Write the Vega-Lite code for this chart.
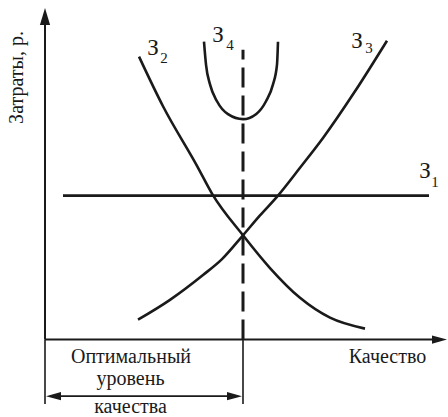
{
  "$schema": "https://vega.github.io/schema/vega-lite/v6.json",
  "width": 448,
  "height": 417,
  "padding": 0,
  "autosize": {"type": "fit", "contains": "padding"},
  "background": "white",
  "config": {"view": {"stroke": null}},
  "datasets": {
    "curves": [
      {"s": "З1", "q": 18, "c": 145}, {"s": "З1", "q": 384, "c": 145},
      {"s": "З2", "q": 94, "c": 285}, {"s": "З2", "q": 118, "c": 235}, {"s": "З2", "q": 152, "c": 175}, {"s": "З2", "q": 167, "c": 147}, {"s": "З2", "q": 198, "c": 105}, {"s": "З2", "q": 225, "c": 72}, {"s": "З2", "q": 255, "c": 42}, {"s": "З2", "q": 285, "c": 22}, {"s": "З2", "q": 320, "c": 11},
      {"s": "З3", "q": 93, "c": 20}, {"s": "З3", "q": 125, "c": 40}, {"s": "З3", "q": 158, "c": 65}, {"s": "З3", "q": 177, "c": 81}, {"s": "З3", "q": 198, "c": 105}, {"s": "З3", "q": 215, "c": 125}, {"s": "З3", "q": 233, "c": 145}, {"s": "З3", "q": 255, "c": 173}, {"s": "З3", "q": 278, "c": 203}, {"s": "З3", "q": 310, "c": 250}, {"s": "З3", "q": 342, "c": 301},
      {"s": "З4", "q": 159, "c": 300}, {"s": "З4", "q": 161, "c": 277}, {"s": "З4", "q": 165, "c": 257}, {"s": "З4", "q": 172, "c": 240}, {"s": "З4", "q": 183, "c": 227}, {"s": "З4", "q": 198, "c": 222}, {"s": "З4", "q": 211, "c": 227}, {"s": "З4", "q": 221, "c": 240}, {"s": "З4", "q": 228, "c": 257}, {"s": "З4", "q": 232, "c": 277}, {"s": "З4", "q": 233, "c": 300}
    ],
    "axes": [
      {"q": 0, "c": 0, "q2": 0, "c2": 325},
      {"q": 0, "c": 0, "q2": 395, "c2": 0}
    ],
    "bracket": [
      {"q": 0, "c": 0, "q2": 0, "c2": -65},
      {"q": 198, "c": 0, "q2": 198, "c2": -65},
      {"q": 6, "c": -57, "q2": 192, "c2": -57}
    ],
    "optimum": [{"q": 198, "c": 0, "c2": 292}],
    "heads": [
      {"dir": "up", "q": 0, "c": 325.5},
      {"dir": "right", "q": 394.5, "c": 0},
      {"dir": "left", "q": 8.5, "c": -57},
      {"dir": "right2", "q": 189.5, "c": -57}
    ],
    "bigLabels": [
      {"t": "З", "q": 108, "c": 294},
      {"t": "З", "q": 173, "c": 307},
      {"t": "З", "q": 312, "c": 301},
      {"t": "З", "q": 380, "c": 170}
    ],
    "subLabels": [
      {"t": "2", "q": 119, "c": 284},
      {"t": "4", "q": 185, "c": 297},
      {"t": "3", "q": 324, "c": 294},
      {"t": "1", "q": 390, "c": 159}
    ],
    "words": [
      {"t": "Оптимальный", "q": 86, "c": -24},
      {"t": "уровень", "q": 85.5, "c": -46},
      {"t": "качества", "q": 85.5, "c": -74},
      {"t": "Качество", "q": 342.5, "c": -24}
    ],
    "ytitle": [{"t": "Затраты, р.", "q": -28, "c": 264}]
  },
  "encoding": {
    "x": {"field": "q", "type": "quantitative", "axis": null, "scale": {"domain": [-45, 403], "nice": false, "zero": false}},
    "y": {"field": "c", "type": "quantitative", "axis": null, "scale": {"domain": [-75, 342], "nice": false, "zero": false}}
  },
  "layer": [
    {
      "data": {"name": "curves"},
      "mark": {"type": "line", "interpolate": "monotone", "color": "#1a1a1a", "strokeWidth": 2.6},
      "encoding": {"detail": {"field": "s", "type": "nominal"}, "order": {"field": "q", "type": "quantitative"}}
    },
    {
      "data": {"name": "axes"},
      "mark": {"type": "rule", "color": "#1a1a1a", "strokeWidth": 2},
      "encoding": {"x2": {"field": "q2"}, "y2": {"field": "c2"}}
    },
    {
      "data": {"name": "bracket"},
      "mark": {"type": "rule", "color": "#1a1a1a", "strokeWidth": 1.6},
      "encoding": {"x2": {"field": "q2"}, "y2": {"field": "c2"}}
    },
    {
      "data": {"name": "optimum"},
      "mark": {"type": "rule", "color": "#1a1a1a", "strokeWidth": 3, "strokeDash": [20, 8]},
      "encoding": {"y2": {"field": "c2"}}
    },
    {
      "data": {"name": "heads"},
      "transform": [{"filter": "datum.dir === 'up'"}],
      "mark": {"type": "point", "filled": true, "color": "#1a1a1a", "opacity": 1, "size": 289, "shape": "M0,-1L0.6,1L-0.6,1Z"}
    },
    {
      "data": {"name": "heads"},
      "transform": [{"filter": "datum.dir === 'right' || datum.dir === 'right2'"}],
      "mark": {"type": "point", "filled": true, "color": "#1a1a1a", "opacity": 1, "size": 225, "shape": "M1,0L-1,0.55L-1,-0.55Z"}
    },
    {
      "data": {"name": "heads"},
      "transform": [{"filter": "datum.dir === 'left'"}],
      "mark": {"type": "point", "filled": true, "color": "#1a1a1a", "opacity": 1, "size": 225, "shape": "M-1,0L1,0.55L1,-0.55Z"}
    },
    {
      "data": {"name": "bigLabels"},
      "mark": {"type": "text", "font": "Liberation Serif, serif", "color": "#1a1a1a", "fontSize": 23, "align": "center", "baseline": "middle"},
      "encoding": {"text": {"field": "t"}}
    },
    {
      "data": {"name": "subLabels"},
      "mark": {"type": "text", "font": "Liberation Serif, serif", "color": "#1a1a1a", "fontSize": 15, "align": "center", "baseline": "middle"},
      "encoding": {"text": {"field": "t"}}
    },
    {
      "data": {"name": "words"},
      "mark": {"type": "text", "font": "Liberation Serif, serif", "color": "#1a1a1a", "fontSize": 20, "align": "center", "baseline": "alphabetic"},
      "encoding": {"text": {"field": "t"}}
    },
    {
      "data": {"name": "ytitle"},
      "mark": {"type": "text", "font": "Liberation Serif, serif", "color": "#1a1a1a", "fontSize": 20, "align": "center", "baseline": "middle", "angle": 270},
      "encoding": {"text": {"field": "t"}}
    }
  ]
}
